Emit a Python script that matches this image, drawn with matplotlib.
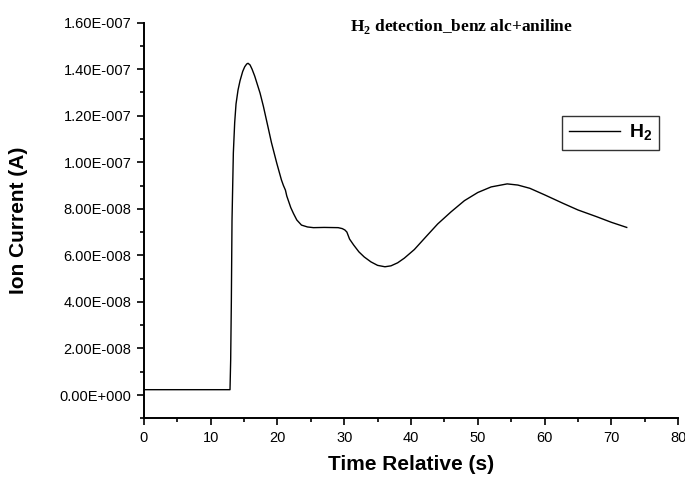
import matplotlib
matplotlib.use("Agg")
import matplotlib.pyplot as plt
from matplotlib.ticker import FuncFormatter, MultipleLocator

plt.rcParams['font.family'] = ['Liberation Sans', 'DejaVu Sans']
plt.rcParams['mathtext.fontset'] = 'custom'

# Data (time in s, ion current in units of 1e-8 A)
time_s = [0, 5, 10, 12.9, 13.0, 13.1, 13.2, 13.4, 13.6, 13.8, 14.1, 14.4, 14.8,
          15.1, 15.4, 15.6, 15.9, 16.2, 16.6, 17.4, 17.9, 18.6, 19.1, 19.9, 20.6,
          20.9, 21.2, 21.4, 22.0, 22.4, 22.9, 23.6, 24.5, 25.4, 27.0, 29.1, 29.7,
          30.1, 30.4, 30.6, 30.8, 31.4, 32.2, 33.0, 34.0, 35.0, 36.1, 37.0, 38.0,
          39.0, 40.5, 42.4, 44.0, 46.0, 48.0, 50.0, 52.0, 54.4, 56.0, 57.8, 60.0,
          62.8, 65.0, 67.8, 70.0, 72.3]
current_e8 = [0.23, 0.23, 0.23, 0.23, 1.5, 4.0, 7.5, 10.4, 11.7, 12.5, 13.1, 13.5,
              13.9, 14.1, 14.22, 14.25, 14.18, 14.0, 13.7, 12.97, 12.4, 11.5, 10.85,
              9.96, 9.24, 9.0, 8.8, 8.55, 8.05, 7.8, 7.52, 7.3, 7.22, 7.19, 7.2, 7.19,
              7.15, 7.09, 7.0, 6.85, 6.7, 6.45, 6.15, 5.93, 5.72, 5.57, 5.51, 5.55,
              5.68, 5.88, 6.25, 6.85, 7.35, 7.87, 8.35, 8.7, 8.94, 9.07, 9.02, 8.88,
              8.6, 8.23, 7.95, 7.66, 7.42, 7.2]
current = [v * 1e-8 for v in current_e8]

x_ticks = [0, 10, 20, 30, 40, 50, 60, 70, 80]
y_ticks = [0, 2e-8, 4e-8, 6e-8, 8e-8, 1e-7, 1.2e-7, 1.4e-7, 1.6e-7]

fig = plt.figure(figsize=(6.85, 4.8), dpi=100)
ax = fig.add_axes([0.210, 0.1285, 0.780, 0.8245])

ax.plot(time_s, current, color='black', linewidth=1.0,
        label=r'$\mathdefault{H}_{\mathdefault{2}}$')

ax.set_xlim(0, 80)
ax.set_ylim(-1e-8, 1.6e-7)
ax.set_xticks(x_ticks)
ax.set_yticks(y_ticks)
ax.xaxis.set_minor_locator(MultipleLocator(5))
ax.yaxis.set_minor_locator(MultipleLocator(1e-8))


def sci_fmt(v, pos):
    if abs(v) < 1e-20:
        return "0.00E+000"
    s = f"{v:.2E}"
    mant, exp = s.split("E")
    sign = exp[0]
    return f"{mant}E{sign}{int(exp[1:]):03d}"


ax.yaxis.set_major_formatter(FuncFormatter(sci_fmt))

for side in ['top', 'right']:
    ax.spines[side].set_visible(False)
for side in ['left', 'bottom']:
    ax.spines[side].set_linewidth(1.4)

ax.tick_params(which='major', direction='out', length=5, width=1.2,
               labelsize=10.5, pad=4)
ax.tick_params(which='minor', direction='out', length=3, width=1.2)

ax.set_xlabel('Time Relative (s)', fontsize=15, fontweight='bold', labelpad=7)
ax.set_ylabel('Ion Current (A)', fontsize=15, fontweight='bold')
ax.yaxis.set_label_coords(-0.217, 0.5)

fig.text(0.511, 0.935, r'$\mathdefault{H}_{\mathdefault{2}}$ detection_benz alc+aniline',
         fontsize=12.5, fontweight='bold', family='Liberation Serif', ha='left', va='baseline')

leg = ax.legend(loc='center', bbox_to_anchor=(0.874, 0.722), frameon=True,
                fancybox=False, prop={'weight': 'bold', 'size': 14},
                handlelength=2.6, borderpad=0.35, handletextpad=0.5,
                borderaxespad=0)
leg.get_frame().set_edgecolor('black')
leg.get_frame().set_linewidth(1.0)

fig.savefig('out.png', dpi=100)
